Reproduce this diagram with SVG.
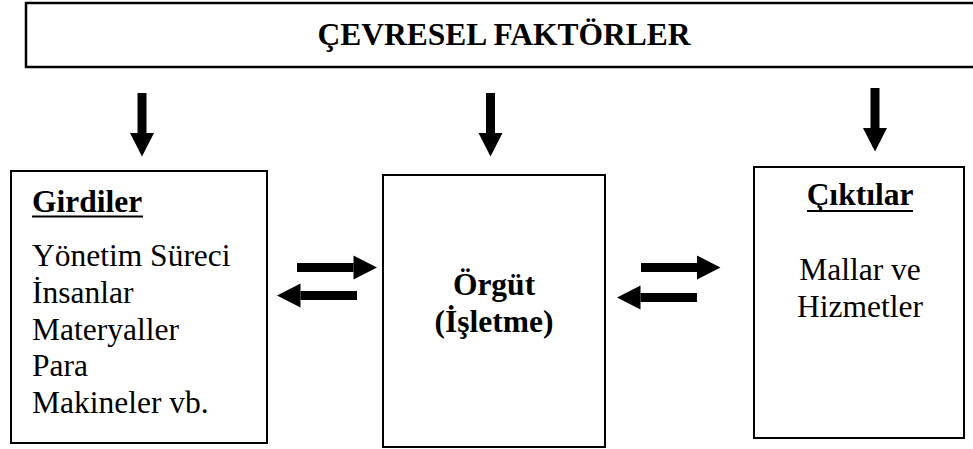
<svg xmlns="http://www.w3.org/2000/svg" width="973" height="449" viewBox="0 0 973 449">
  <style>
    .box { fill: #ffffff; stroke: #000000; stroke-width: 2; }
    .frame { fill: #ffffff; stroke: #000000; stroke-width: 2.5; }
    .t { font-family: "Liberation Serif", "Times New Roman", serif; font-size: 31.5px; fill: #000000; }
    .b { font-weight: bold; }
    .mid { text-anchor: middle; }
    .ul { stroke: #000000; stroke-width: 2; }
    .arrow { stroke: #000000; stroke-width: 9; fill: none; marker-end: url(#head); }
  </style>
  <defs>
    <marker id="head" markerUnits="userSpaceOnUse" markerWidth="24" markerHeight="25" refX="0" refY="12" orient="auto" overflow="visible">
      <path d="M0,0 L23.5,12 L0,24 Z" fill="#000000"/>
    </marker>
  </defs>

  <!-- Environment banner -->
  <g id="cevresel">
    <rect class="frame" x="26" y="3" width="960" height="64"/>
    <text class="t b mid" x="504" y="45">ÇEVRESEL FAKTÖRLER</text>
  </g>

  <!-- Inputs -->
  <g id="girdiler">
    <rect class="box" x="11" y="171" width="256" height="272"/>
    <text class="t b" x="32" y="212">Girdiler</text>
    <line class="ul" x1="32" y1="216.5" x2="143" y2="216.5"/>
    <text class="t" x="32" y="266">Yönetim Süreci</text>
    <text class="t" x="32" y="302.5">İnsanlar</text>
    <text class="t" x="32" y="339.5">Materyaller</text>
    <text class="t" x="32" y="376">Para</text>
    <text class="t" x="32" y="413">Makineler vb.</text>
  </g>

  <!-- Organisation -->
  <g id="orgut">
    <rect class="box" x="383" y="175" width="222" height="272"/>
    <text class="t b mid" x="494" y="295">Örgüt</text>
    <text class="t b mid" x="494" y="332">(İşletme)</text>
  </g>

  <!-- Outputs -->
  <g id="ciktilar">
    <rect class="box" x="754" y="167" width="210" height="271"/>
    <text class="t b mid" x="860" y="205">Çıktılar</text>
    <line class="ul" x1="807" y1="211" x2="913" y2="211"/>
    <text class="t mid" x="860" y="280">Mallar ve</text>
    <text class="t mid" x="860" y="317">Hizmetler</text>
  </g>

  <!-- Connectors -->
  <g id="connectors">
    <line class="arrow" x1="142" y1="93" x2="142" y2="133"/>
    <line class="arrow" x1="490.5" y1="93" x2="490.5" y2="133"/>
    <line class="arrow" x1="875" y1="88" x2="875" y2="128"/>
    <line class="arrow" x1="297" y1="267.5" x2="353.5" y2="267.5"/>
    <line class="arrow" x1="357" y1="295.5" x2="300.5" y2="295.5"/>
    <line class="arrow" x1="641" y1="267.5" x2="697" y2="267.5"/>
    <line class="arrow" x1="697" y1="297.5" x2="640.5" y2="297.5"/>
  </g>
</svg>
